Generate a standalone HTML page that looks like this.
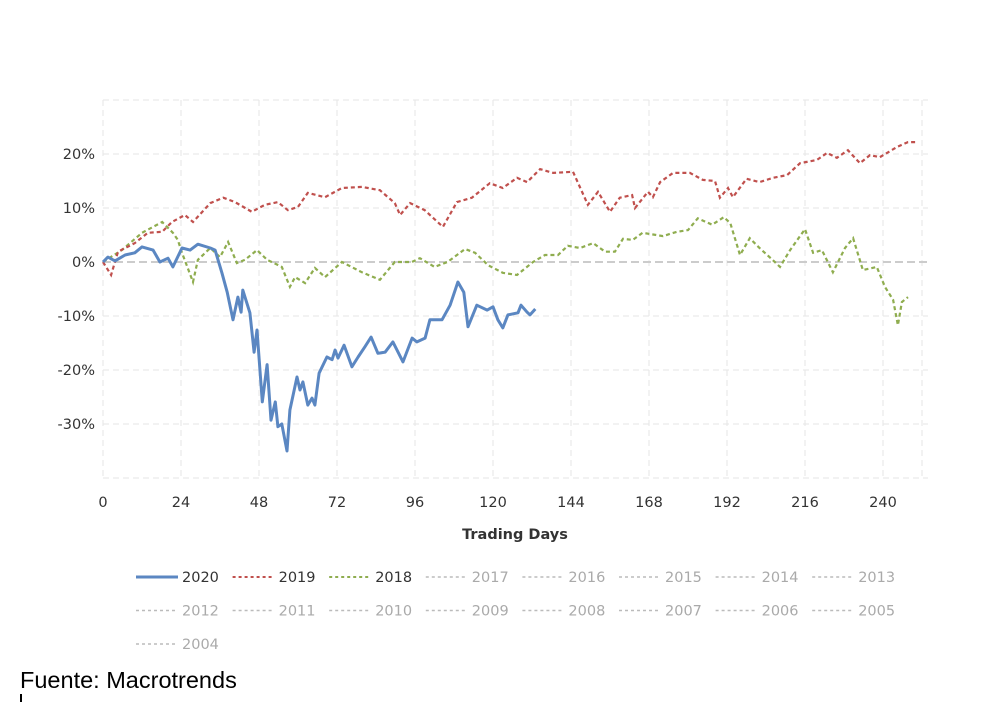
<!DOCTYPE html>
<html><head><meta charset="utf-8"><style>
html,body{margin:0;padding:0;background:#fff;width:1005px;height:702px;overflow:hidden;font-family:"Liberation Sans",sans-serif}
svg{position:absolute;left:0;top:0}
</style></head><body>
<svg id="chart" width="1005" height="702" viewBox="0 0 1005 702" font-family="DejaVu Sans, sans-serif">
<g id="grid"></g>
<g id="axes"></g>
<g id="series"></g>
<text x="515" y="539" text-anchor="middle" font-size="14.5" font-weight="bold" fill="#333">Trading Days</text>
<g id="legend"></g>
<text x="20" y="688" font-size="23.5" fill="#000" font-family="Liberation Sans, sans-serif">Fuente: Macrotrends</text>
<rect x="20" y="694" width="2" height="8" fill="#000"/>
</svg>
<script>
const xTicks=[0,24,48,72,96,120,144,168,192,216,240];
const yTicks=[20,10,0,-10,-20,-30];
const yTickLabels=["20%","10%","0%","-10%","-20%","-30%"];
const days2020=[0,1.5,3.7,6.8,9.8,12,15.4,17.5,20,21.5,24.3,26.8,29.2,33,34.5,36.6,38.2,40,41.5,42.5,43,45.2,46.5,47.4,49,50.5,51.7,53,53.8,55,56.6,57.5,59.7,60.6,61.5,63,64.3,65.2,66.5,68.9,70.5,71.4,72.3,74.2,76.6,78.5,80.6,82.5,84.6,86.8,89.2,92.3,95.1,96.6,99.1,100.6,104.3,106.8,109.2,111,112.3,115,118.2,120,121.5,123,124.6,127.7,128.6,130.5,131.4,133];
const vals2020=[0,0.9,0.2,1.3,1.7,2.8,2.2,0,0.7,-0.9,2.6,2.2,3.3,2.6,2.2,-2,-5.6,-10.7,-6.5,-9.3,-5.2,-9.4,-16.7,-12.6,-25.9,-19,-29.3,-25.9,-30.5,-30,-35,-27.4,-21.3,-23.7,-22.2,-26.5,-25.2,-26.5,-20.6,-17.6,-18.1,-16.3,-17.8,-15.4,-19.4,-17.6,-15.7,-13.9,-16.9,-16.7,-14.8,-18.5,-14.1,-14.8,-14.1,-10.7,-10.7,-8,-3.7,-5.6,-12,-8,-8.9,-8.3,-10.7,-12.2,-9.8,-9.4,-8,-9.3,-9.8,-8.7];
const days2019=[0,2.5,4.6,9.8,13.8,18.2,21.2,25.2,27.7,33,37,40.6,45.8,49.8,53.8,56.9,60,63,68.3,73.5,79.7,85.2,89.8,91.4,94.5,99,104.6,108.9,113.5,119,123,127.4,130.5,134.5,138.5,144.6,149.2,152.3,156,159,162.8,163.7,167.7,169.2,171.4,175.4,180.6,184.6,188.3,189.8,192.3,193.8,198,202,206.2,210.5,214.5,219.7,222.8,225.8,229.2,232.9,236,239,244.3,247.7,250.5];
const vals2019=[0,-2.4,1.9,3.5,5.4,5.6,7.4,8.7,7.4,10.9,11.9,11.1,9.3,10.6,11.1,9.6,10.2,12.8,12,13.7,13.9,13.3,10.9,8.7,10.9,9.6,6.5,11.1,11.9,14.6,13.7,15.6,14.8,17.2,16.5,16.7,10.6,13,9.3,11.9,12.4,10,13,12,14.8,16.5,16.5,15.2,15,11.9,13.7,12,15.4,14.8,15.6,16.1,18.3,18.9,20.2,19.3,20.7,18.3,19.8,19.4,21.3,22.2,22.2];
const days2018=[0,5.8,12,18.2,21.5,23,24.3,27.7,29.2,33,36,38.5,41.2,43.7,47.4,50.5,55,57.5,59.1,62.2,65.2,68.3,73.5,79.7,85.2,89.8,95,97.5,102,106,111.4,114.5,118.5,123,127.4,132.3,136,140,143,146.8,150.8,154.5,157.5,160,163,166,172.3,176.6,180,183,187.4,191,193,196,199,202,206,208.3,211.4,216,218.5,221.2,224.6,228.3,230.8,233.8,238.1,240.6,243.1,244.6,245.8,247.7];
const vals2018=[0,2.2,5.4,7.4,5.4,4.1,1.7,-3.7,0.4,2.6,0.9,3.7,-0.2,0.4,2.2,0.4,-0.9,-4.6,-2.8,-3.9,-1.1,-2.8,0,-1.9,-3.3,0,0,0.7,-0.9,0,2.4,1.7,-0.6,-2,-2.4,0,1.3,1.3,3,2.6,3.5,1.9,1.9,4.3,4.1,5.4,4.8,5.6,5.9,8.1,6.9,8.3,7.2,1.3,4.4,2.6,0.4,-0.9,2.2,6.1,1.7,2.2,-1.9,2.6,4.4,-1.5,-0.9,-4.6,-7,-11.7,-7.4,-6.5];
const legendYears=["2020","2019","2018","2017","2016","2015","2014","2013","2012","2011","2010","2009","2008","2007","2006","2005","2004"];

const NS="http://www.w3.org/2000/svg";
const X=d=>103+d*3.25;
const Y=v=>262-v*5.4;
function mk(tag,attrs,parent){const e=document.createElementNS(NS,tag);for(const k in attrs)e.setAttribute(k,attrs[k]);parent.appendChild(e);return e;}
const grid=document.getElementById('grid'),axes=document.getElementById('axes'),series=document.getElementById('series'),legend=document.getElementById('legend');
[30,20,10,-10,-20,-30,-40].forEach(v=>{const l=mk('line',{x1:103,x2:928,y1:Y(v),y2:Y(v),stroke:'#e6e6e6','stroke-dasharray':'6,4','stroke-width':1},grid);

});
xTicks.concat([252]).forEach(d=>{const l=mk('line',{x1:X(d),x2:X(d),y1:100,y2:478,stroke:'#e6e6e6','stroke-dasharray':'6,4','stroke-width':1},grid);

});
const z=mk('line',{x1:103,x2:928,y1:Y(0),y2:Y(0),stroke:'#cccccc','stroke-dasharray':'8,4','stroke-width':2},grid);


yTicks.forEach((v,i)=>{const t=mk('text',{x:95,y:Y(v)+5,'text-anchor':'end','font-size':14.5,fill:'#333'},axes);t.textContent=yTickLabels[i];

});
xTicks.forEach(d=>{const t=mk('text',{x:X(d),y:507,'text-anchor':'middle','font-size':14.5,fill:'#333'},axes);t.textContent=d;

});
function path(ds,vs){return ds.map((d,i)=>(i?'L':'M')+X(d).toFixed(1)+','+Y(vs[i]).toFixed(1)).join('');}
const p18=mk('path',{d:path(days2018,vals2018),fill:'none',stroke:'#8fad4f','stroke-width':2.2,'stroke-dasharray':'4,3'},series);


const p19=mk('path',{d:path(days2019,vals2019),fill:'none',stroke:'#c0504d','stroke-width':2.2,'stroke-dasharray':'4,3'},series);


const p20=mk('path',{d:path(days2020,vals2020),fill:'none',stroke:'#5b87c2','stroke-width':3,'stroke-linejoin':'round'},series);


legendYears.forEach((yr,i)=>{const r=Math.floor(i/8),c=i%8;const x0=136+c*96.6,y0=577+r*33.5;
const g=mk('g',{},legend);


let col='#bbb',sw=1.5,da='3,3',tc='#aaa';
if(yr==='2020'){col='#5b87c2';sw=3;da='none';tc='#333';}
else if(yr==='2019'){col='#c0504d';sw=2;tc='#333';}
else if(yr==='2018'){col='#8fad4f';sw=2;tc='#333';}
mk('line',{x1:x0,x2:x0+42,y1:y0,y2:y0,stroke:col,'stroke-width':sw,'stroke-dasharray':da},g);
const t=mk('text',{x:x0+46,y:y0+5,'font-size':14.5,fill:tc},g);t.textContent=yr;});
</script>
</body></html>
